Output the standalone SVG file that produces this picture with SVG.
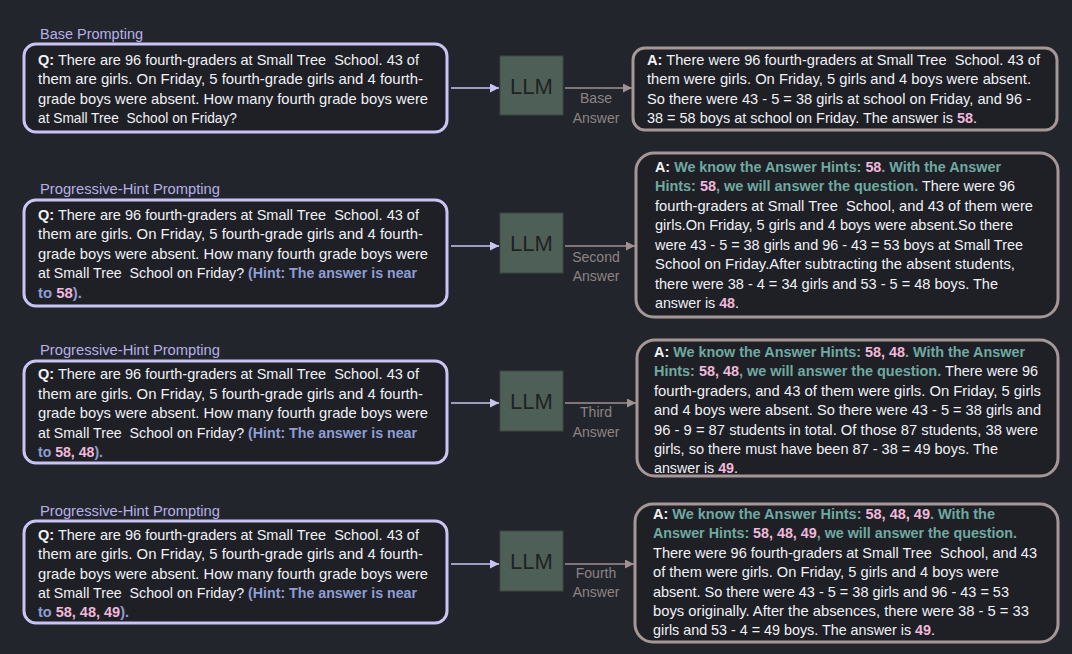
<svg xmlns="http://www.w3.org/2000/svg" width="1072" height="654" viewBox="0 0 1072 654" xml:space="preserve">
<defs>
<style>
.bg{fill:#23252c}
.qbox{fill:#1e2026;stroke:#c9c4f3;stroke-width:3}
.abox{fill:#1e2026;stroke:#a69797;stroke-width:3}
.llm{fill:#4e5f58;stroke:#3c4843;stroke-width:1}
.llmt{font-family:"Liberation Sans",Arial,sans-serif;font-size:22px;fill:#1e2322;text-anchor:middle}
.title{font-family:"Liberation Sans",Arial,sans-serif;font-size:14px;fill:#b7b0e8}
.t{font-family:"Liberation Sans",Arial,sans-serif;font-size:14.5px;fill:#f1f1f6;white-space:pre}
.b{font-weight:bold}
.h{font-weight:bold;fill:#8e9dd6}
.p{font-weight:bold;fill:#f0b8da}
.g{font-weight:bold;fill:#70a9a1}
.lab{font-family:"Liberation Sans",Arial,sans-serif;font-size:14px;fill:#8e8383;text-anchor:middle}
.cin{stroke:#c9c4f3;stroke-width:1.5;fill:none}
.cout{stroke:#a09090;stroke-width:1.5;fill:none}
</style>
<marker id="ain" viewBox="0 0 10 10" refX="10" refY="5" markerWidth="9" markerHeight="9" markerUnits="userSpaceOnUse" orient="auto"><path d="M0,0 L10,5 L0,10 z" fill="#c9c4f3"/></marker>
<marker id="aout" viewBox="0 0 10 10" refX="10" refY="5" markerWidth="9" markerHeight="9" markerUnits="userSpaceOnUse" orient="auto"><path d="M0,0 L10,5 L0,10 z" fill="#a09090"/></marker>
</defs>
<rect class="bg" x="0" y="0" width="1072" height="654"/>

<g id="connectors">
<line class="cin" x1="451" y1="88" x2="499" y2="88" marker-end="url(#ain)"/>
<line class="cout" x1="565" y1="88" x2="632" y2="88" marker-end="url(#aout)"/>
<line class="cin" x1="451" y1="246" x2="499" y2="246" marker-end="url(#ain)"/>
<line class="cout" x1="565" y1="246" x2="635" y2="246" marker-end="url(#aout)"/>
<line class="cin" x1="451" y1="403" x2="499" y2="403" marker-end="url(#ain)"/>
<line class="cout" x1="565" y1="403" x2="636" y2="403" marker-end="url(#aout)"/>
<line class="cin" x1="451" y1="564" x2="499" y2="564" marker-end="url(#ain)"/>
<line class="cout" x1="565" y1="564" x2="634" y2="564" marker-end="url(#aout)"/>
<text class="lab" x="596" y="103">Base</text>
<text class="lab" x="596" y="123">Answer</text>
<text class="lab" x="596" y="262">Second</text>
<text class="lab" x="596" y="281">Answer</text>
<text class="lab" x="596" y="417">Third</text>
<text class="lab" x="596" y="437">Answer</text>
<text class="lab" x="596" y="578">Fourth</text>
<text class="lab" x="596" y="597">Answer</text>
</g>

<g id="q1">
<text class="title" x="40" y="39" textLength="103" lengthAdjust="spacingAndGlyphs">Base Prompting</text>
<rect class="qbox" x="24" y="44" width="423" height="88" rx="12"/>
<text class="t" x="38" y="65" textLength="381" lengthAdjust="spacingAndGlyphs"><tspan class="b">Q:</tspan> There are 96 fourth-graders at Small Tree  School. 43 of</text>
<text class="t" x="38" y="84" textLength="385" lengthAdjust="spacingAndGlyphs">them are girls. On Friday, 5 fourth-grade girls and 4 fourth-</text>
<text class="t" x="38" y="104" textLength="390" lengthAdjust="spacingAndGlyphs">grade boys were absent. How many fourth grade boys were</text>
<text class="t" x="38" y="123" textLength="199" lengthAdjust="spacingAndGlyphs">at Small Tree  School on Friday?</text>
</g>

<g id="llm1"><rect class="llm" x="500" y="56" width="63" height="59"/><text class="llmt" x="531.5" y="93.5">LLM</text></g>

<g id="a1">
<rect class="abox" x="633" y="48" width="424" height="82" rx="12"/>
<text class="t" x="647" y="65" textLength="393" lengthAdjust="spacingAndGlyphs"><tspan class="b">A:</tspan> There were 96 fourth-graders at Small Tree  School. 43 of</text>
<text class="t" x="647" y="84" textLength="384" lengthAdjust="spacingAndGlyphs">them were girls. On Friday, 5 girls and 4 boys were absent.</text>
<text class="t" x="647" y="104" textLength="384" lengthAdjust="spacingAndGlyphs">So there were 43 - 5 = 38 girls at school on Friday, and 96 -</text>
<text class="t" x="647" y="123" textLength="330" lengthAdjust="spacingAndGlyphs">38 = 58 boys at school on Friday. The answer is <tspan class="p">58</tspan>.</text>
</g>

<g id="q2">
<text class="title" x="40" y="194" textLength="180" lengthAdjust="spacingAndGlyphs">Progressive-Hint Prompting</text>
<rect class="qbox" x="24" y="200" width="423" height="106" rx="12"/>
<text class="t" x="38" y="220" textLength="381" lengthAdjust="spacingAndGlyphs"><tspan class="b">Q:</tspan> There are 96 fourth-graders at Small Tree  School. 43 of</text>
<text class="t" x="38" y="239" textLength="385" lengthAdjust="spacingAndGlyphs">them are girls. On Friday, 5 fourth-grade girls and 4 fourth-</text>
<text class="t" x="38" y="259" textLength="390" lengthAdjust="spacingAndGlyphs">grade boys were absent. How many fourth grade boys were</text>
<text class="t" x="38" y="278" textLength="379" lengthAdjust="spacingAndGlyphs">at Small Tree  School on Friday? <tspan class="h">(Hint: The answer is near</tspan></text>
<text class="t" x="38" y="298" textLength="44" lengthAdjust="spacingAndGlyphs"><tspan class="h">to </tspan><tspan class="p">58</tspan><tspan class="h">).</tspan></text>
</g>

<g id="llm2"><rect class="llm" x="500" y="213" width="63" height="60"/><text class="llmt" x="531.5" y="251">LLM</text></g>

<g id="a2">
<rect class="abox" x="636" y="153" width="422" height="164" rx="18"/>
<text class="t" x="655" y="172" textLength="346" lengthAdjust="spacingAndGlyphs"><tspan class="b">A:</tspan> <tspan class="g">We know the Answer Hints: </tspan><tspan class="p">58</tspan><tspan class="g">. With the Answer</tspan></text>
<text class="t" x="655" y="191" textLength="360" lengthAdjust="spacingAndGlyphs"><tspan class="g">Hints: </tspan><tspan class="p">58</tspan><tspan class="g">, we will answer the question.</tspan> There were 96</text>
<text class="t" x="655" y="211" textLength="378" lengthAdjust="spacingAndGlyphs">fourth-graders at Small Tree  School, and 43 of them were</text>
<text class="t" x="655" y="230" textLength="358" lengthAdjust="spacingAndGlyphs">girls.On Friday, 5 girls and 4 boys were absent.So there</text>
<text class="t" x="655" y="250" textLength="368" lengthAdjust="spacingAndGlyphs">were 43 - 5 = 38 girls and 96 - 43 = 53 boys at Small Tree</text>
<text class="t" x="655" y="269" textLength="360" lengthAdjust="spacingAndGlyphs">School on Friday.After subtracting the absent students,</text>
<text class="t" x="655" y="289" textLength="343" lengthAdjust="spacingAndGlyphs">there were 38 - 4 = 34 girls and 53 - 5 = 48 boys. The</text>
<text class="t" x="655" y="308" textLength="84" lengthAdjust="spacingAndGlyphs">answer is <tspan class="p">48</tspan>.</text>
</g>

<g id="q3">
<text class="title" x="40" y="355" textLength="180" lengthAdjust="spacingAndGlyphs">Progressive-Hint Prompting</text>
<rect class="qbox" x="24" y="361" width="423" height="102" rx="12"/>
<text class="t" x="38" y="379" textLength="381" lengthAdjust="spacingAndGlyphs"><tspan class="b">Q:</tspan> There are 96 fourth-graders at Small Tree  School. 43 of</text>
<text class="t" x="38" y="399" textLength="385" lengthAdjust="spacingAndGlyphs">them are girls. On Friday, 5 fourth-grade girls and 4 fourth-</text>
<text class="t" x="38" y="418" textLength="390" lengthAdjust="spacingAndGlyphs">grade boys were absent. How many fourth grade boys were</text>
<text class="t" x="38" y="438" textLength="379" lengthAdjust="spacingAndGlyphs">at Small Tree  School on Friday? <tspan class="h">(Hint: The answer is near</tspan></text>
<text class="t" x="38" y="457" textLength="65" lengthAdjust="spacingAndGlyphs"><tspan class="h">to </tspan><tspan class="p">58, 48</tspan><tspan class="h">).</tspan></text>
</g>

<g id="llm3"><rect class="llm" x="500" y="371" width="63" height="60"/><text class="llmt" x="531.5" y="409">LLM</text></g>

<g id="a3">
<rect class="abox" x="637" y="340" width="421" height="136" rx="18"/>
<text class="t" x="654" y="357" textLength="371" lengthAdjust="spacingAndGlyphs"><tspan class="b">A:</tspan> <tspan class="g">We know the Answer Hints: </tspan><tspan class="p">58, 48</tspan><tspan class="g">. With the Answer</tspan></text>
<text class="t" x="654" y="376" textLength="384" lengthAdjust="spacingAndGlyphs"><tspan class="g">Hints: </tspan><tspan class="p">58, 48</tspan><tspan class="g">, we will answer the question.</tspan> There were 96</text>
<text class="t" x="654" y="396" textLength="387" lengthAdjust="spacingAndGlyphs">fourth-graders, and 43 of them were girls. On Friday, 5 girls</text>
<text class="t" x="654" y="415" textLength="387" lengthAdjust="spacingAndGlyphs">and 4 boys were absent. So there were 43 - 5 = 38 girls and</text>
<text class="t" x="654" y="435" textLength="384" lengthAdjust="spacingAndGlyphs">96 - 9 = 87 students in total. Of those 87 students, 38 were</text>
<text class="t" x="654" y="454" textLength="344" lengthAdjust="spacingAndGlyphs">girls, so there must have been 87 - 38 = 49 boys. The</text>
<text class="t" x="654" y="473" textLength="84" lengthAdjust="spacingAndGlyphs">answer is <tspan class="p">49</tspan>.</text>
</g>

<g id="q4">
<text class="title" x="40" y="516" textLength="180" lengthAdjust="spacingAndGlyphs">Progressive-Hint Prompting</text>
<rect class="qbox" x="24" y="521" width="423" height="102" rx="12"/>
<text class="t" x="38" y="540" textLength="381" lengthAdjust="spacingAndGlyphs"><tspan class="b">Q:</tspan> There are 96 fourth-graders at Small Tree  School. 43 of</text>
<text class="t" x="38" y="559" textLength="385" lengthAdjust="spacingAndGlyphs">them are girls. On Friday, 5 fourth-grade girls and 4 fourth-</text>
<text class="t" x="38" y="579" textLength="390" lengthAdjust="spacingAndGlyphs">grade boys were absent. How many fourth grade boys were</text>
<text class="t" x="38" y="598" textLength="379" lengthAdjust="spacingAndGlyphs">at Small Tree  School on Friday? <tspan class="h">(Hint: The answer is near</tspan></text>
<text class="t" x="38" y="617" textLength="91" lengthAdjust="spacingAndGlyphs"><tspan class="h">to </tspan><tspan class="p">58, 48, 49</tspan><tspan class="h">).</tspan></text>
</g>

<g id="llm4"><rect class="llm" x="500" y="531" width="63" height="60"/><text class="llmt" x="531.5" y="569">LLM</text></g>

<g id="a4">
<rect class="abox" x="635" y="504" width="423" height="138" rx="18"/>
<text class="t" x="653" y="519" textLength="342" lengthAdjust="spacingAndGlyphs"><tspan class="b">A:</tspan> <tspan class="g">We know the Answer Hints: </tspan><tspan class="p">58, 48, 49</tspan><tspan class="g">. With the</tspan></text>
<text class="t" x="653" y="538" textLength="364" lengthAdjust="spacingAndGlyphs"><tspan class="g">Answer Hints: </tspan><tspan class="p">58, 48, 49</tspan><tspan class="g">, we will answer the question.</tspan></text>
<text class="t" x="653" y="558" textLength="384" lengthAdjust="spacingAndGlyphs">There were 96 fourth-graders at Small Tree  School, and 43</text>
<text class="t" x="653" y="577" textLength="346" lengthAdjust="spacingAndGlyphs">of them were girls. On Friday, 5 girls and 4 boys were</text>
<text class="t" x="653" y="597" textLength="356" lengthAdjust="spacingAndGlyphs">absent. So there were 43 - 5 = 38 girls and 96 - 43 = 53</text>
<text class="t" x="653" y="616" textLength="376" lengthAdjust="spacingAndGlyphs">boys originally. After the absences, there were 38 - 5 = 33</text>
<text class="t" x="653" y="635" textLength="282" lengthAdjust="spacingAndGlyphs">girls and 53 - 4 = 49 boys. The answer is <tspan class="p">49</tspan>.</text>
</g>
</svg>
